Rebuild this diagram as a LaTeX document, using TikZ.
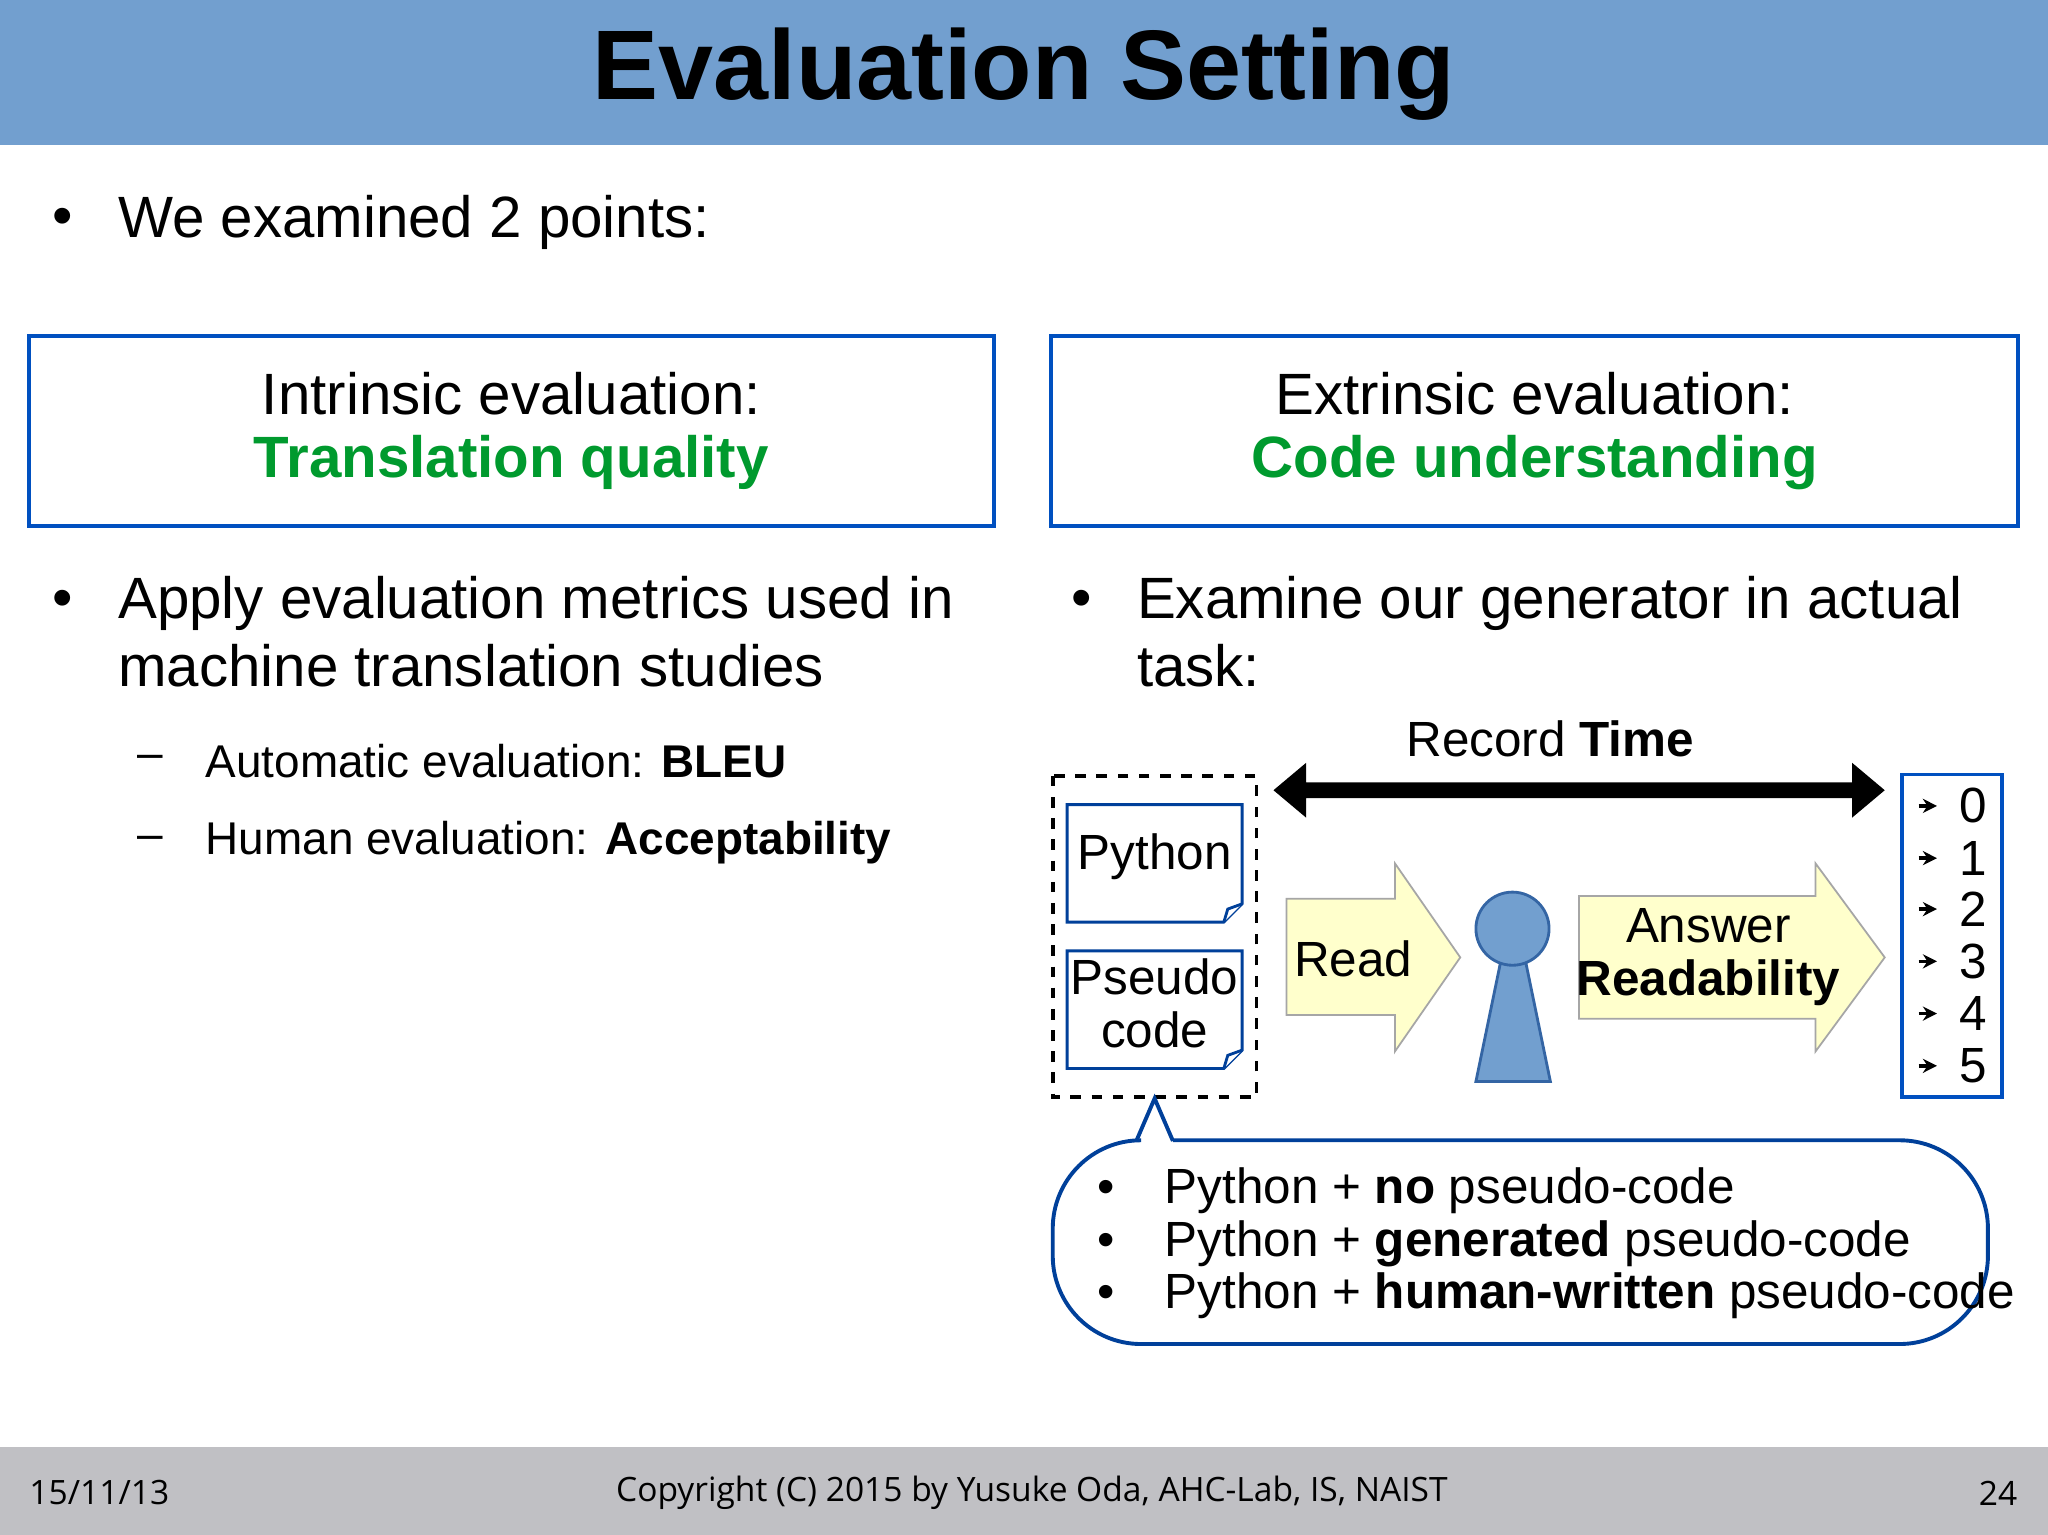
\documentclass[tikz,border=0pt]{standalone}
\usepackage{fontspec}
\setmainfont{Liberation Sans}
\newfontfamily\footfont{Open Sans}
\usetikzlibrary{arrows.meta}
\definecolor{hdr}{HTML}{729FCF}
\definecolor{boxblue}{HTML}{0050C0}
\definecolor{grn}{HTML}{009A2E}
\definecolor{ftr}{HTML}{C0C0C4}
\definecolor{pale}{HTML}{FFFFCC}
\definecolor{pers}{HTML}{729FCF}
\definecolor{persb}{HTML}{3465A4}
\tikzset{
  body/.style={font=\fontsize{16.5}{19}\selectfont, anchor=west, inner sep=0},
  sub/.style={font=\fontsize{13}{15}\selectfont, anchor=west, inner sep=0},
  evalbox/.style={draw=boxblue, line width=1.1pt, align=center, font=\fontsize{16.5}{20}\selectfont},
  note/.style={draw=boxblue!80!black, line width=0.8pt, fill=white},
  yarrow/.style={draw=gray!70, fill=pale, line width=0.5pt},
  num/.style={font=\fontsize{14}{16}\selectfont, inner sep=0},
}
\begin{document}
\begin{tikzpicture}[x=0.013cm,y=-0.013cm]
\useasboundingbox (0,0) rectangle (1568,1175);
\fill[white] (0,0) rectangle (1568,1175);
% header
\fill[hdr] (0,0) rectangle (1568,111);
\node[font=\fontsize{28}{32}\selectfont\bfseries] (title) at (784,57) {Evaluation Setting};
% bullet 1
\node[body] (b1) at (40,170) {•};
\node[body] (t1) at (90,170) {We examined 2 points:};
% boxes
\node[evalbox, minimum width=739*0.013cm, minimum height=146*0.013cm] (lbox) at (391.5,330) {Intrinsic evaluation:\\[-2pt]\textcolor{grn}{\bfseries Translation quality}};
\node[evalbox, minimum width=740*0.013cm, minimum height=146*0.013cm] (rbox) at (1175,330) {Extrinsic evaluation:\\[-2pt]\textcolor{grn}{\bfseries Code understanding}};
% left bullets
\node[body] (b2) at (40,462) {•};
\node[body] (t2a) at (90,462) {Apply evaluation metrics used in};
\node[body] (t2b) at (90,510) {machine translation studies};
\node[sub] (d1) at (105,583) {–};
\node[sub] (s1) at (157,583) {Automatic evaluation: \textbf{BLEU}};
\node[sub] (d2) at (105,645) {–};
\node[sub] (s2) at (157,645) {Human evaluation: \textbf{Acceptability}};
% right bullet
\node[body] (b3) at (820,462) {•};
\node[body] (t3a) at (870,462) {Examine our generator in actual};
\node[body] (t3b) at (870,510) {task:};
% record time
\node[num] (rec) at (1187,566) {Record \textbf{Time}};
\fill[black] (975,605) -- (1000,584) -- (1000,599) -- (1418,599) -- (1418,584) -- (1443,605) -- (1418,626) -- (1418,611) -- (1000,611) -- (1000,626) -- cycle;
% dashed box
\draw[dashed, line width=1.1pt] (806,594) rectangle (962,840);
% notes
\draw[note] (817,616) -- (951,616) -- (951,692) -- (937,706) -- (817,706) -- cycle;
\draw[note] (937,706) -- (940,696) -- (951,692);
\node[num] (py) at (884,656) {Python};
\draw[note] (817,728) -- (951,728) -- (951,804) -- (937,818) -- (817,818) -- cycle;
\draw[note] (937,818) -- (940,808) -- (951,804);
\node[num, align=center] (ps) at (884,768) {Pseudo\\[-1pt]code};
% read arrow
\draw[yarrow] (985,688) -- (1068,688) -- (1068,661) -- (1118,733) -- (1068,805) -- (1068,777) -- (985,777) -- cycle;
\node[num] (read) at (1036,734) {Read};
% person
\draw[fill=pers, draw=persb, line width=0.8pt] (1149,736) -- (1168,736) -- (1187,828) -- (1130,828) -- cycle;
\draw[fill=pers, draw=persb, line width=0.8pt] (1158,711) circle (28);
% answer arrow
\draw[yarrow] (1209,686) -- (1390,686) -- (1390,661) -- (1443,733) -- (1390,805) -- (1390,780) -- (1209,780) -- cycle;
\node[num, align=center] (ans) at (1308,733) {Answer\\[-1pt]\textbf{Readability}};
% numbers box
\draw[draw=boxblue, line width=1.1pt] (1456,593) rectangle (1533,840);
\foreach \n/\yy in {0/617,1/657,2/696,3/736,4/776,5/816}{
  \coordinate (a\n) at (1469,\yy);
  \node[num] (n\n) at (1511,\yy) {\n};
  \draw[-{Stealth[length=4pt,width=4pt]}, line width=1pt] (a\n) -- ++(14,0);
}
% callout
\draw[boxblue!80!black, line width=1.1pt, fill=white, rounded corners=25]
  (870,873) -- (806,873) -- (806,1029) -- (1522,1029) -- (1522,873) -- (898,873);
\draw[boxblue!80!black, line width=1.1pt, line join=miter] (870,873.5) -- (884,841) -- (898,873.5);
\node[num, anchor=west] (c1) at (840,912) {•\hspace{14pt}Python + \textbf{no} pseudo-code};
\node[num, anchor=west] (c2) at (840,952) {•\hspace{14pt}Python + \textbf{generated} pseudo-code};
\node[num, anchor=west] (c3) at (840,992) {•\hspace{14pt}Python + \textbf{human-written} pseudo-code};
% footer
\fill[ftr] (0,1108) rectangle (1568,1175);
\node[font=\footfont\fontsize{9.5}{11}\selectfont, anchor=west, inner sep=0] (date) at (22,1143) {15/11/13};
\node[font=\footfont\fontsize{9.5}{11}\selectfont, inner sep=0] (copy) at (790,1143) {Copyright (C) 2015 by Yusuke Oda, AHC-Lab, IS, NAIST};
\node[font=\footfont\fontsize{9.5}{11}\selectfont, anchor=east, inner sep=0] (pg) at (1545,1143) {24};
\end{tikzpicture}
\end{document}
